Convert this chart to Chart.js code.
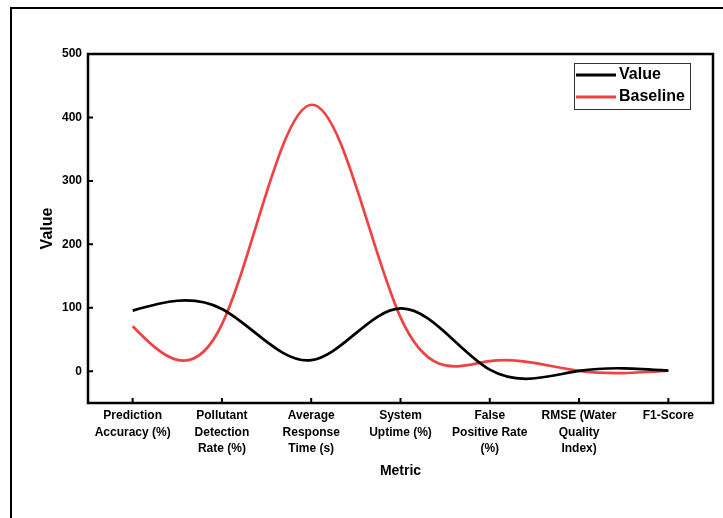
<!DOCTYPE html>
<html>
<head>
<meta charset="utf-8">
<script src="https://cdn.jsdelivr.net/npm/chart.js@4.4.1/dist/chart.umd.min.js"></script>
<style>
    body { margin: 0; background: #fff; }
    #wrap { width: 723px; height: 518px; position: relative; }
</style>
</head>
<body>
<div id="wrap"><canvas id="myChart" width="723" height="518"></canvas></div>
<script>
var categories = [
    ['Prediction', 'Accuracy (%)'],
    ['Pollutant', 'Detection', 'Rate (%)'],
    ['Average', 'Response', 'Time (s)'],
    ['System', 'Uptime (%)'],
    ['False', 'Positive Rate', '(%)'],
    ['RMSE (Water', 'Quality', 'Index)'],
    ['F1-Score']
];
var valueSeries = [95.6, 98.2, 17.5, 99.1, 2.5, 0.5, 0.93];
var baselineSeries = [71, 74, 420, 85, 16, 0.6, 0.85];
var yTicks = [0, 100, 200, 300, 400, 500];

var FONT = "'Liberation Sans', Arial, sans-serif";
var RED = '#ef4343';

// natural cubic spline through the points, written into the bezier control points
function splinePoints(points)
{
    var n = points.length;
    if (n < 3) return;
    var y = points.map(function (p) { return p.y; });
    var M = new Array(n).fill(0);
    var c = new Array(n).fill(0);
    var d = new Array(n).fill(0);
    for (var i = 1; i < n - 1; i++) {
        var r = 6 * (y[i - 1] - 2 * y[i] + y[i + 1]);
        var den = 4 - (i > 1 ? c[i - 1] : 0);
        c[i] = 1 / den;
        d[i] = (r - (i > 1 ? d[i - 1] : 0)) / den;
    }
    for (var j = n - 2; j >= 1; j--) {
        M[j] = d[j] - c[j] * M[j + 1];
    }
    var slope = [];
    for (var k = 0; k < n - 1; k++) {
        slope.push((y[k + 1] - y[k]) - (2 * M[k] + M[k + 1]) / 6);
    }
    slope.push((y[n - 1] - y[n - 2]) + (M[n - 2] + 2 * M[n - 1]) / 6);

    for (var s = 0; s < n; s++) {
        var p = points[s];
        var dxPrev = s > 0 ? (p.x - points[s - 1].x) / 3 : 0;
        var dxNext = s < n - 1 ? (points[s + 1].x - p.x) / 3 : 0;
        p.cp1x = p.x - dxPrev;
        p.cp1y = p.y - slope[s] / 3 * (dxPrev ? 1 : 0);
        p.cp2x = p.x + dxNext;
        p.cp2y = p.y + slope[s] / 3 * (dxNext ? 1 : 0);
    }
}

var splinePlugin = {
    id: 'spline',
    beforeDatasetsDraw: function (chart)
    {
        chart.data.datasets.forEach(function (ds, i) {
            var meta = chart.getDatasetMeta(i);
            splinePoints(meta.data);
            meta.dataset._pointsUpdated = true;
        });
    }
};

var framePlugin = {
    id: 'frame',
    beforeDraw: function (chart)
    {
        var ctx = chart.ctx;
        ctx.save();
        ctx.strokeStyle = '#000';
        ctx.lineWidth = 2;
        ctx.strokeRect(11, 8, 900, 700);
        ctx.restore();
    },
    afterDraw: function (chart)
    {
        var ctx = chart.ctx;
        var a = chart.chartArea;
        var xs = chart.scales.x;
        var ys = chart.scales.y;
        ctx.save();
        ctx.strokeStyle = '#000';
        ctx.lineWidth = 2.5;
        ctx.strokeRect(a.left, a.top, a.right - a.left, a.bottom - a.top);
        ctx.lineWidth = 2;
        ctx.beginPath();
        for (var i = 0; i < categories.length; i++) {
            var px = xs.getPixelForTick(i);
            ctx.moveTo(px, a.bottom);
            ctx.lineTo(px, a.bottom - 5);
        }
        yTicks.forEach(function (v) {
            var py = ys.getPixelForValue(v);
            ctx.moveTo(a.left, py);
            ctx.lineTo(a.left + 5, py);
        });
        ctx.stroke();

        // legend
        var bx = 574, by = 63, bw = 116, bh = 46;
        ctx.lineWidth = 1;
        ctx.strokeStyle = '#333';
        ctx.strokeRect(bx + 0.5, by + 0.5, bw, bh);
        var rows = [
            {label: 'Value', color: '#000', y: 75},
            {label: 'Baseline', color: RED, y: 97}
        ];
        ctx.font = 'bold 16px ' + FONT;
        ctx.textBaseline = 'middle';
        ctx.textAlign = 'left';
        rows.forEach(function (r) {
            ctx.strokeStyle = r.color;
            ctx.lineWidth = 3;
            ctx.beginPath();
            ctx.moveTo(576, r.y);
            ctx.lineTo(616, r.y);
            ctx.stroke();
            ctx.fillStyle = '#000';
            ctx.fillText(r.label, 619, r.y);
        });
        ctx.restore();
    }
};

var ctx = document.getElementById('myChart').getContext('2d');
var myChart = new Chart(ctx, {
    type: 'line',
    data: {
        labels: categories,
        datasets: [{
            label: 'Value',
            data: valueSeries,
            borderColor: '#000',
            borderWidth: 2.7,
            tension: 0.4,
            pointRadius: 0,
            fill: false
        }, {
            label: 'Baseline',
            data: baselineSeries,
            borderColor: RED,
            borderWidth: 2.7,
            tension: 0.4,
            pointRadius: 0,
            fill: false
        }]
    },
    options: {
        responsive: false,
        animation: false,
        layout: {padding: {top: 54, right: 10, left: 0, bottom: 0}},
        plugins: {
            legend: {display: false},
            tooltip: {enabled: false}
        },
        scales: {
            x: {
                offset: true,
                grid: {display: false, drawTicks: false},
                border: {display: false},
                ticks: {
                    color: '#000',
                    padding: 4,
                    maxRotation: 0,
                    autoSkip: false,
                    font: {family: FONT, size: 12, weight: 'bold', lineHeight: 1.4}
                },
                title: {
                    display: true,
                    text: 'Metric',
                    color: '#000',
                    font: {family: FONT, size: 14, weight: 'bold', lineHeight: 1.2},
                    padding: {top: 0, bottom: 38}
                },
                afterFit: function (scale) { scale.height = 115; }
            },
            y: {
                min: -50,
                max: 500,
                grid: {display: false, drawTicks: false},
                border: {display: false},
                afterBuildTicks: function (scale) {
                    scale.ticks = yTicks.map(function (v) { return {value: v}; });
                },
                ticks: {
                    color: '#000',
                    padding: 6,
                    font: {family: FONT, size: 12, weight: 'bold'}
                },
                title: {
                    display: true,
                    text: 'Value',
                    color: '#000',
                    font: {family: FONT, size: 16, weight: 'bold', lineHeight: 1.2},
                    padding: {top: 38, bottom: 0}
                },
                afterFit: function (scale) { scale.width = 88; }
            }
        }
    },
    plugins: [splinePlugin, framePlugin]
});
</script>
</body>
</html>
